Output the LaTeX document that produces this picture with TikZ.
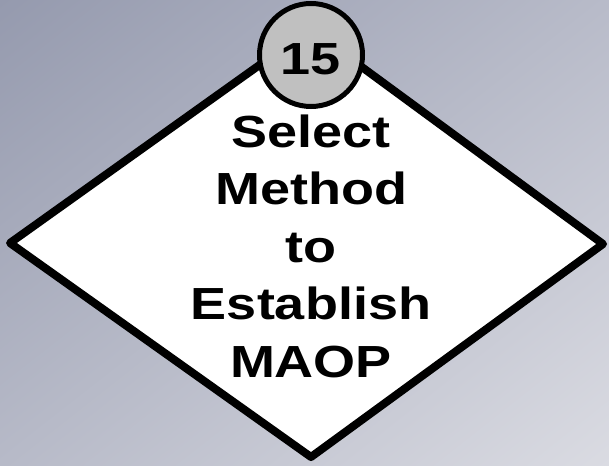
\documentclass[tikz,border=0pt]{standalone}
\usepackage{fontspec}
\usetikzlibrary{shadings}
\newfontfamily\widesans[FakeStretch=1.2]{Liberation Sans}
\definecolor{bgTL}{HTML}{959AAE}
\definecolor{bgTR}{HTML}{B8BBC9}
\definecolor{bgBL}{HTML}{B7BAC8}
\definecolor{bgBR}{HTML}{DADBE2}
\definecolor{badgegray}{HTML}{C0C0C0}
\tikzset{
  decision/.style={draw=black, line width=8pt, line join=round, fill=white},
  badge/.style={circle, draw=black, line width=5pt, fill=badgegray,
    minimum size=103pt, inner sep=0pt},
  bigtext/.style={font=\widesans\bfseries\fontsize{45}{57.5}\selectfont,
    text=black, inner sep=0pt, align=center}
}
\begin{document}
\begin{tikzpicture}[x=1pt, y=-1pt]
  % backdrop with diagonal gradient
  \shade[upper left=bgTL, upper right=bgTR, lower left=bgBL, lower right=bgBR]
    (0,0) rectangle (609,465);
  \useasboundingbox (0,0) rectangle (609,465);

  % decision diamond
  \coordinate (top) at (310,29);
  \coordinate (left) at (10,243);
  \coordinate (right) at (603,244);
  \coordinate (bottom) at (311,457);
  \draw[decision] (top) -- (right) -- (bottom) -- (left) -- cycle;

  % step number badge
  \node[badge] (stepbadge) at (311,55) {};
  \node[bigtext, anchor=base] (stepnum) at (311,75) {15};

  % decision text
  \node[bigtext, anchor=center] (label) at (311,246)
    {Select\\Method\\to\\Establish\\MAOP};
\end{tikzpicture}
\end{document}
